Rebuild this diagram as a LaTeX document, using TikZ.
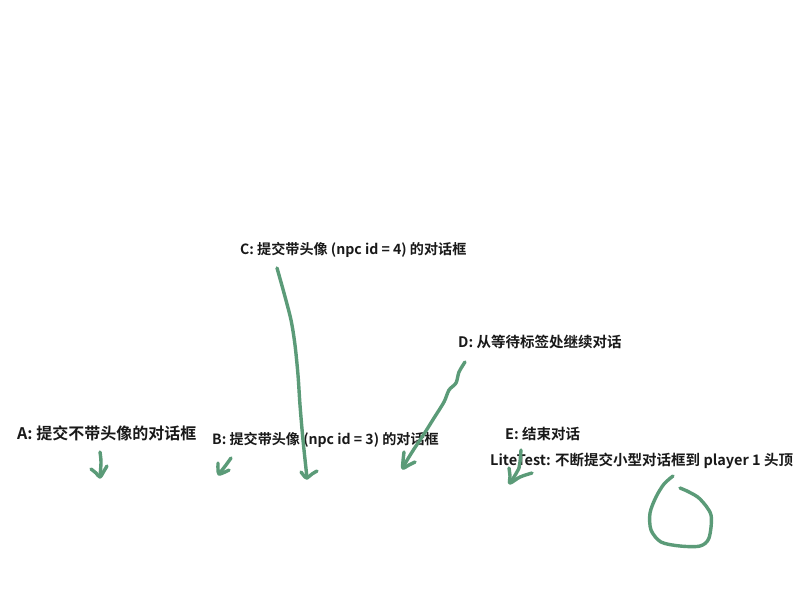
\documentclass[tikz,border=0pt]{standalone}
\usepackage{fontspec}
\setmainfont{Noto Sans CJK SC}[BoldFont={Noto Sans CJK SC Bold}]
\begin{document}
\begin{tikzpicture}[x=1pt,y=-1pt,
  lbl/.style={anchor=west,inner sep=0pt,font=\bfseries\fontsize{14.5}{16}\selectfont,text=black!90},
  pen/.style={draw=penc,line width=3.4pt,line cap=round,line join=round}]
\definecolor{penc}{HTML}{5B9B78}
\useasboundingbox[fill=white] (0,0) rectangle (800,600);
% labels
\node[lbl,font=\bfseries\fontsize{16}{18}\selectfont] (A) at (17,433) {A: 提交不带头像的对话框};
\node[lbl,font=\bfseries\fontsize{14.1}{16}\selectfont] (B) at (212,440) {B: 提交带头像 (npc id = 3) 的对话框};
\node[lbl,font=\bfseries\fontsize{14.1}{16}\selectfont] (C) at (240,250) {C: 提交带头像 (npc id = 4) 的对话框};
\node[lbl] (D) at (458,342) {D: 从等待标签处继续对话};
\node[lbl] (E) at (505,434) {E: 结束对话};
\node[lbl] (L) at (490,461) {LiteTest: 不断提交小型对话框到 player 1 头顶};
% arrow A
\draw[pen] plot[smooth] coordinates {(100,452) (101,462) (100,477)};
\draw[pen] plot[smooth] coordinates {(91,469) (96,473) (100,477) (104,471) (107,466)};
% arrow B
\draw[pen] plot[smooth] coordinates {(231,458) (226,465) (219,474)};
\draw[pen] plot[smooth] coordinates {(218,463) (218,469) (219,474) (225,472) (229,470)};
% arrow C
\draw[pen] plot[smooth] coordinates {(277,268) (284,293) (291,320) (295,345) (298,375) (300,405) (303,440) (307,478)};
\draw[pen] plot[smooth] coordinates {(301,472) (305,477) (307,478) (312,474) (317,471)};
% arrow D
\draw[pen] plot[smooth] coordinates {(465,362) (459,372) (456,383) (449,390) (444,402) (434,418) (424,434) (414,449) (406,462) (403,468)};
\draw[pen] plot[smooth] coordinates {(404,452) (403,461) (403,468) (409,465) (415,462)};
% arrow E
\draw[pen] plot[smooth] coordinates {(521,450) (520,462) (519,468) (514,477) (510,483)};
\draw[pen] plot[smooth] coordinates {(509,468) (510,476) (510,483) (520,477) (532,473)};
% loop
\draw[pen] plot[smooth] coordinates {(673,476) (664,484) (656,497) (650,513) (651,530) (661,542) (680,546) (700,546) (709,538) (711,515) (700,499) (689,492) (680,488)};
\end{tikzpicture}
\end{document}
